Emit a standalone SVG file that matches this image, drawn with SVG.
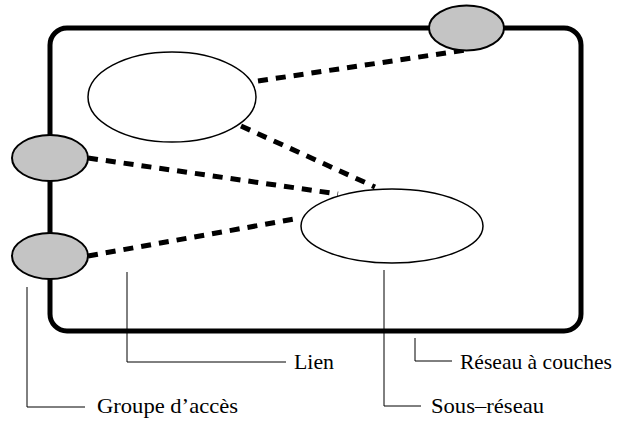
<svg xmlns="http://www.w3.org/2000/svg" width="620" height="421" viewBox="0 0 620 421">
  <style>
    .frame { fill: none; stroke: #000; stroke-width: 5; }
    .sub { fill: #fff; stroke: #000; stroke-width: 1.5; }
    .access { fill: #c4c4c4; stroke: #000; stroke-width: 2; }
    .link { fill: none; stroke: #000; stroke-width: 5; stroke-dasharray: 10 8; }
    .leader { fill: none; stroke: #000; stroke-width: 1; }
    .label { font-family: "Liberation Serif", "Times New Roman", serif; font-size: 21px; fill: #000; }
  </style>

  <!-- layered network boundary -->
  <g id="layered-network">
    <rect class="frame" x="50" y="28" width="531" height="303" rx="17" ry="17"/>
  </g>

  <!-- links -->
  <g id="connectors">
    <line class="link" x1="258" y1="81" x2="466" y2="50"/>
    <line class="link" x1="241" y1="126" x2="375" y2="187"/>
    <line class="link" x1="88" y1="158" x2="338" y2="194"/>
    <line class="link" x1="88" y1="256" x2="300" y2="218"/>
  </g>

  <!-- subnetworks -->
  <g id="subnetwork-upper">
    <ellipse class="sub" cx="172" cy="97" rx="84" ry="45"/>
  </g>
  <g id="subnetwork-lower">
    <ellipse class="sub" cx="392" cy="226" rx="91" ry="37"/>
  </g>

  <!-- access groups on the boundary -->
  <g id="access-top">
    <ellipse class="access" cx="466.5" cy="28" rx="37.5" ry="22.5"/>
  </g>
  <g id="access-left-upper">
    <ellipse class="access" cx="50" cy="158" rx="38" ry="23"/>
  </g>
  <g id="access-left-lower">
    <ellipse class="access" cx="50" cy="256" rx="38" ry="23"/>
  </g>

  <!-- callouts -->
  <g id="callouts">
    <polyline class="leader" points="27,287 27,407 85,407"/>
    <polyline class="leader" points="127,272 127,362 286,362"/>
    <polyline class="leader" points="384,270 384,406 421,406"/>
    <polyline class="leader" points="415,338 415,361 452,361"/>
  </g>

  <g id="labels">
    <text class="label" x="294" y="369" textLength="40" lengthAdjust="spacingAndGlyphs">Lien</text>
    <text class="label" x="460" y="369" textLength="152" lengthAdjust="spacingAndGlyphs">Réseau à couches</text>
    <text class="label" x="97" y="413" textLength="141" lengthAdjust="spacingAndGlyphs">Groupe d’accès</text>
    <text class="label" x="431" y="413" textLength="113" lengthAdjust="spacingAndGlyphs">Sous–réseau</text>
  </g>
</svg>
